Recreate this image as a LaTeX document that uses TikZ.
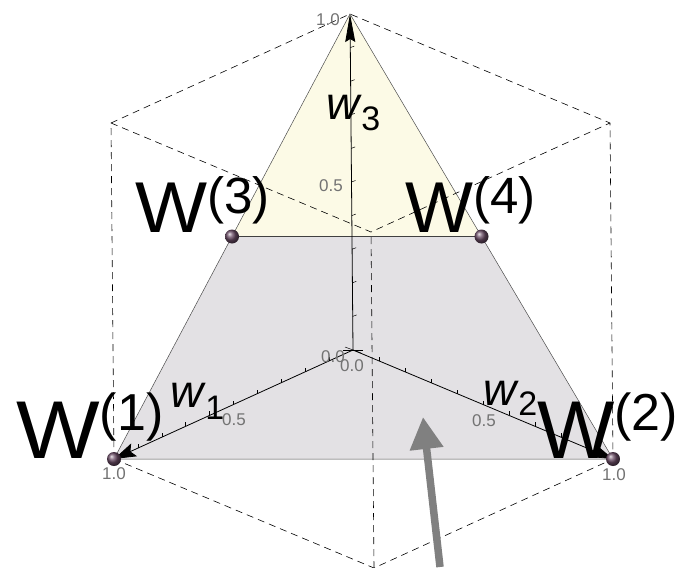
\documentclass[tikz,border=0pt]{standalone}
\usepackage{fontspec}
\setmainfont{Liberation Sans}
\usetikzlibrary{arrows.meta}
\definecolor{simyellow}{RGB}{252,250,230}
\definecolor{simgray}{RGB}{227,225,228}
\definecolor{ticklab}{RGB}{115,115,115}
\definecolor{bigarrow}{RGB}{128,128,128}
\definecolor{ballc}{RGB}{105,75,100}
\newcommand{\wsupbig}[1]{\raisebox{28pt}{\fontsize{52}{52}\selectfont(#1)}}
\newcommand{\wsupsmall}[1]{\raisebox{19pt}{\fontsize{51}{51}\selectfont(#1)}}
\newcommand{\wsub}[2]{\kern2pt\raisebox{#1}{\fontsize{34}{34}\selectfont\upshape #2}}
\tikzset{
  boxedge/.style={black, line width=0.6pt, dash pattern=on 7pt off 5pt},
  axisline/.style={black, line width=0.8pt},
  polyedge/.style={black!70, line width=0.5pt},
  ticklabel/.style={text=ticklab, font=\fontsize{17}{17}\selectfont, inner sep=0pt},
  axislabel/.style={anchor=base west, inner sep=0pt, font=\fontsize{46}{46}\selectfont\itshape},
  bigw/.style={anchor=base west, inner sep=0pt, font=\fontsize{82}{82}\selectfont},
  smallw/.style={anchor=base west, inner sep=0pt, font=\fontsize{72}{72}\selectfont},
  vball/.style={circle, inner sep=0pt, minimum size=14pt, shading=ball, ball color=ballc},
}
\begin{document}
\begin{tikzpicture}[x=1pt,y=-1pt]
\useasboundingbox (0,0) rectangle (684,567);
\begin{scope}[shift={(353pt,-350pt)}, x={(-239pt,-109pt)}, y={(260pt,-109pt)}, z={(-3pt,336pt)}]
  \coordinate (O) at (0,0,0);
  \coordinate (A1) at (1,0,0);
  \coordinate (A2) at (0,1,0);
  \coordinate (A3) at (0,0,1);
  \coordinate (B12) at (1,1,0);
  \coordinate (B13) at (1,0,1);
  \coordinate (B23) at (0,1,1);
  \coordinate (B123) at (1,1,1);
  \coordinate (M3) at (0.5,0,0.5);
  \coordinate (M4) at (0,0.5,0.5);
  % polygons
  \fill[simgray] (A1) -- (A2) -- (M4) -- (M3) -- cycle;
  \fill[simyellow] (M3) -- (M4) -- (A3) -- cycle;
  \draw[polyedge] (A1) -- (A2) -- (A3) -- cycle;
  \draw[black!75, line width=0.9pt] (M3) -- (M4);
  % box edges
  \draw[boxedge] (A1) -- (B12) -- (A2);
  \draw[boxedge] (B12) -- (B123);
  \draw[boxedge] (A1) -- (B13) -- (A3) -- (B23) -- (A2);
  \draw[boxedge] (B13) -- (B123) -- (B23);
  % ticks
  \foreach \t in {0.1,0.2,0.3,0.4,0.5,0.6,0.7,0.8,0.9} {
    \draw[axisline, line width=0.5pt] (\t,0,0) -- ++(0pt,4pt);
    \draw[axisline, line width=0.5pt] (0,\t,0) -- ++(0pt,4pt);
    \draw[axisline, line width=0.5pt] (0,0,\t) -- ++(4pt,1.5pt);
  }
  \draw[axisline, line width=0.5pt] (O) ++(-10pt,0pt) -- ++(20pt,0pt);
  \draw[axisline, line width=0.5pt] (O) ++(-8pt,3pt) -- ++(16pt,-6pt);
  % axes
  \draw[axisline, -{Stealth[length=22pt,width=14pt,inset=4pt]}] (O) -- (A1);
  \draw[axisline, -{Stealth[length=22pt,width=14pt,inset=4pt]}] (O) -- (A2);
  \draw[axisline, -{Stealth[length=28pt,width=10pt,inset=3pt]}] (O) -- (A3);
\end{scope}
% points
\node[vball] (p1) at (A1) {};
\node[vball] (p2) at (A2) {};
\node[vball] (p3) at (M3) {};
\node[vball] (p4) at (M4) {};
% tick labels
\node[ticklabel] (t10a) at (328,20) {1.0};
\node[ticklabel] (t10b) at (114,474) {1.0};
\node[ticklabel] (t10c) at (614,475) {1.0};
\node[ticklabel] (t05a) at (234,420) {0.5};
\node[ticklabel] (t05b) at (484,421) {0.5};
\node[ticklabel] (t05c) at (331,186) {0.5};
\node[ticklabel] (t00a) at (333,357) {0.0};
\node[ticklabel] (t00b) at (352,366) {0.0};
% axis labels
\node[axislabel] (w1) at (170,407) {w\wsub{-12pt}{1}};
\node[axislabel] (w2) at (483,405) {w\wsub{-10pt}{2}};
\node[axislabel] (w3) at (326,119) {w\wsub{-11pt}{3}};
% W labels
\node[bigw] (lW1) at (16,458) {\scalebox{1.08}[1]{W}\wsupbig{1}};
\node[bigw] (lW2) at (537,458) {W\wsupbig{2}};
\node[smallw] (lW3) at (135,232) {\scalebox{1.06}[1]{W}\wsupsmall{3}};
\node[smallw] (lW4) at (405,232) {W\wsupsmall{4}};
% big gray arrow
\coordinate (gtail) at (440,567);
\coordinate (gtip) at (423,417);
\draw[bigarrow, line width=7.5pt, -{Triangle[length=32pt,width=32pt]}] (gtail) -- (gtip);
\end{tikzpicture}
\end{document}
